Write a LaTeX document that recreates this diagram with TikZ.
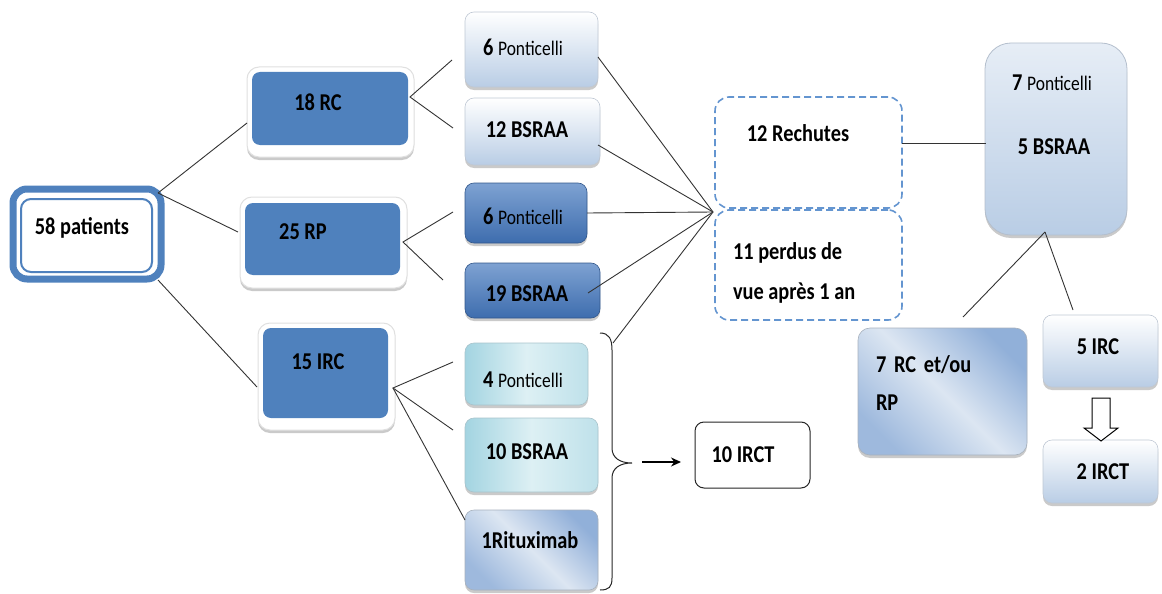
\documentclass[tikz,border=0pt]{standalone}
\usepackage{fontspec}
\usepackage{graphicx}
\setmainfont{Carlito}
\usetikzlibrary{shadows,arrows.meta,calc}
\definecolor{bm}{HTML}{4F81BD}
\definecolor{bdark}{HTML}{3E6DAE}
\definecolor{bmid}{HTML}{7EA2D2}
\definecolor{blite}{HTML}{B9CDE5}
\definecolor{bpale}{HTML}{DCE6F2}
\definecolor{teal1}{HTML}{A3D4E1}
\definecolor{teal2}{HTML}{DDF0F4}
\definecolor{dashc}{HTML}{6495D0}
\newcommand\pnt{\fontsize{18}{20}\selectfont\mdseries}
\newcommand\st[1]{\scalebox{0.97}[1.15]{#1}}
\begin{document}
\begin{tikzpicture}[x=1pt,y=-1pt,
  base/.style={inner sep=0pt, outer sep=0pt},
  shad/.style={drop shadow={shadow xshift=0pt, shadow yshift=-3pt, opacity=0.35, fill=black!60}},
  frame/.style={base, rounded corners=12pt, fill=white, draw=black!12, line width=1pt, shad},
  darkbox/.style={base, rounded corners=8pt, fill=bm},
  lightbox/.style={base, rounded corners=9pt, draw=blite!80!black!60, line width=0.6pt, top color=white, bottom color=blite, shad},
  dkgrad/.style={base, rounded corners=9pt, draw=bdark!80!black, line width=0.6pt, top color=bmid, bottom color=bdark, shad},
  tealbox/.style={base, rounded corners=9pt, draw=teal1!80!black!70, line width=0.6pt, left color=teal1, right color=teal1!70, middle color=teal2, shad},
  diagbox/.style={base, rounded corners=12pt, draw=blite!70!black!70, line width=0.6pt, shading=axis, left color=bmid!85, right color=bmid!75, middle color=bpale, shading angle=-45, shad},
  dbox/.style={base, rounded corners=14pt, draw=dashc, line width=1.6pt, dash pattern=on 7pt off 4pt},
  lab/.style={base, font=\fontsize{21}{25}\selectfont\bfseries},
  conn/.style={line width=0.9pt, black!80}
]
\useasboundingbox (0,0) rectangle (1162,594);

% 58 patients
\node[base, rounded corners=14pt, draw=bm, line width=7pt, fill=white, minimum width=148pt, minimum height=90pt] (patO) at (87,234) {};
\node[base, rounded corners=10pt, draw=bm, line width=2pt, minimum width=131pt, minimum height=73pt] (patI) at (86.5,235.5) {};
\node[lab] (tpat) at (82,228) {\st{58 patients}};

% first level
\node[frame, minimum width=167pt, minimum height=90pt] (rcF) at (330.5,112) {};
\node[darkbox, minimum width=156pt, minimum height=73pt] (rcI) at (330,108.5) {};
\node[lab] (trc) at (318,102) {\st{18 RC}};

\node[frame, minimum width=167pt, minimum height=91pt] (rpF) at (323.5,242.5) {};
\node[darkbox, minimum width=155pt, minimum height=72pt] (rpI) at (322.5,239) {};
\node[lab] (trp) at (303,232) {\st{25 RP}};

\node[frame, minimum width=137pt, minimum height=107pt] (ircF) at (326.5,376.5) {};
\node[darkbox, minimum width=125pt, minimum height=90pt] (ircI) at (325.5,373) {};
\node[lab] (tirc) at (318,362) {\st{15 IRC}};

% second level
\node[lightbox, minimum width=133pt, minimum height=75pt] (p1) at (531.5,49.5) {};
\node[lab] (tp1) at (523,47) {\st{6 {\pnt Ponticelli}}};
\node[lightbox, minimum width=135pt, minimum height=67pt] (b1) at (532.5,131.5) {};
\node[lab] (tb1) at (527,130) {\st{12 BSRAA}};

\node[dkgrad, minimum width=122pt, minimum height=60pt] (p2) at (526,213) {};
\node[lab] (tp2) at (523,216) {\st{6 {\pnt Ponticelli}}};
\node[dkgrad, minimum width=135pt, minimum height=55pt] (b2) at (532.5,290.5) {};
\node[lab] (tb2) at (527,294) {\st{19 BSRAA}};

\node[tealbox, minimum width=123pt, minimum height=62pt] (p3) at (526.5,374) {};
\node[lab] (tp3) at (523,380) {\st{4 {\pnt Ponticelli}}};
\node[tealbox, minimum width=133pt, minimum height=74pt] (b3) at (531.5,455) {};
\node[lab] (tb3) at (527,452) {\st{10 BSRAA}};
\node[diagbox, rounded corners=9pt, minimum width=133pt, minimum height=80pt] (rx) at (531.5,550) {};
\node[lab] (trx) at (530,540) {\st{1Rituximab}};

% 10 IRCT
\node[base, rounded corners=9pt, draw=black!85, line width=1pt, fill=white, minimum width=115pt, minimum height=66pt] (irct) at (752.5,455) {};
\node[lab] (tirct) at (743,455) {\st{10 IRCT}};

% dashed boxes
\node[dbox, minimum width=187pt, minimum height=111pt] (rech) at (808.5,152.5) {};
\node[lab] (trech) at (798,133) {\st{12 Rechutes}};
\node[dbox, minimum width=187pt, minimum height=110pt] (perd) at (808.5,265) {};
\node[lab, anchor=west] (tperd1) at (733,253) {\st{11 perdus de}};
\node[lab, anchor=west] (tperd2) at (733,293) {\st{vue après 1 an}};

% right side
\node[base, rounded corners=26pt, draw=blite!80!black!70, line width=0.8pt, top color=bpale!70, bottom color=blite, shad, minimum width=142pt, minimum height=192pt] (big) at (1056,139) {};
\node[lab] (tbig1) at (1052,83) {\st{7 {\pnt Ponticelli}}};
\node[lab] (tbig2) at (1054,147) {\st{5 BSRAA}};

\node[diagbox, minimum width=169pt, minimum height=127pt] (rcrp) at (942.5,391.5) {};
\node[lab, anchor=west] (trcrp1) at (876,365) {\st{7\hspace{8pt}RC\hspace{8pt}et/ou}};
\node[lab, anchor=west] (trcrp2) at (876,403) {\st{RP}};

\node[lightbox, minimum width=115pt, minimum height=72pt] (irc5) at (1100.5,351) {};
\node[lab] (tirc5) at (1098,347) {\st{5 IRC}};
\node[lightbox, minimum width=115pt, minimum height=63pt] (irct2) at (1100.5,471.5) {};
\node[lab] (tirct2) at (1103,472) {\st{2 IRCT}};

% hollow arrow
\draw[line width=1pt, fill=white, line join=miter] (1092,398) -- (1110,398) -- (1110,428) -- (1118,428) -- (1101,441) -- (1084,428) -- (1092,428) -- cycle;

% connectors
\coordinate (f0) at (158,193);
\coordinate (f0b) at (158,280);
\coordinate (e0a) at (247,123);
\coordinate (e0b) at (238,232);
\coordinate (e0c) at (257,387);
\draw[conn] (f0) -- (e0a);
\draw[conn] (f0) -- (e0b);
\draw[conn] (f0b) -- (e0c);

\coordinate (f1) at (410,97);
\coordinate (e1a) at (452,60);
\coordinate (e1b) at (453,128);
\draw[conn] (e1a) -- (f1) -- (e1b);

\coordinate (f2) at (403,242);
\coordinate (e2a) at (453,212);
\coordinate (e2b) at (443,280);
\draw[conn] (e2a) -- (f2) -- (e2b);

\coordinate (f3) at (393,388);
\coordinate (e3a) at (453,362);
\coordinate (e3b) at (453,430);
\coordinate (e3c) at (465,520);
\draw[conn] (e3a) -- (f3) -- (e3b);
\draw[conn] (f3) -- (e3c);

\coordinate (cv) at (713,212);
\coordinate (s1) at (598,57);
\coordinate (s2) at (598,145);
\coordinate (s4) at (588,293);
\coordinate (s5) at (613,343);
\draw[conn] (s1) -- (cv);
\draw[conn] (s2) -- (cv);
\draw[conn] (p2.east) -- (cv);
\draw[conn] (s4) -- (cv);
\draw[conn] (s5) -- (cv);

\coordinate (r1) at (902,143);
\coordinate (r2) at (986,143);
\draw[conn] (r1) -- (r2);

\coordinate (bb) at (1045,232);
\coordinate (bl) at (963,317);
\coordinate (br) at (1073,310);
\draw[conn] (bb) -- (bl);
\draw[conn] (bb) -- (br);

% brace
\draw[line width=1pt, black!85] (600,333) .. controls (609,333) and (612,339) .. (612,350) -- (612,448) .. controls (612,458) and (620,463) .. (632,463) .. controls (620,463) and (612,468) .. (612,478) -- (612,578) .. controls (612,587) and (609,590) .. (600,590);
\coordinate (ab) at (642,462);
\coordinate (ae) at (681,462);
\draw[line width=1.4pt, -{Stealth[length=10pt,width=9pt]}] (ab) -- (ae);
\end{tikzpicture}
\end{document}
